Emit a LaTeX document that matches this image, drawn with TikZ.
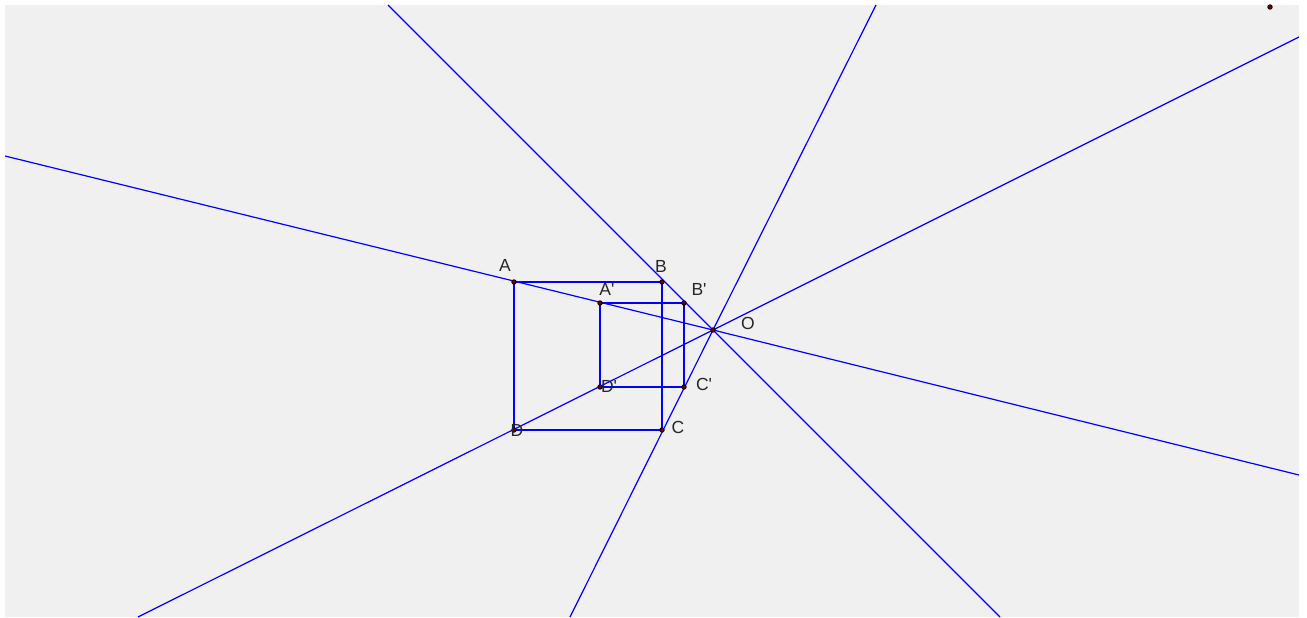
\documentclass[tikz,border=0pt]{standalone}
\usepackage{fontspec}
\newfontfamily\lblfont{Liberation Sans}
\definecolor{bg}{RGB}{240,240,240}
\definecolor{ptc}{RGB}{120,0,0}
\begin{document}
\begin{tikzpicture}[x=1pt,y=-1pt,
  ln/.style={blue, line width=1.2pt},
  sq/.style={blue, line width=1.7pt},
  pt/.style={circle, fill=ptc, draw=black, line width=0.8pt, inner sep=0pt, minimum size=4.5pt},
  lbl/.style={font=\lblfont\fontsize{17.5}{19}\selectfont, text=black!85, inner sep=0pt}]
\useasboundingbox (0,0) rectangle (1307,618);
\fill[white] (0,0) rectangle (1307,618);
\fill[bg] (5,5) rectangle (1299,617);
% points
\coordinate (O) at (713,330);
\coordinate (A) at (514,282);
\coordinate (B) at (662,282);
\coordinate (C) at (662,430);
\coordinate (D) at (514,430);
\coordinate (A') at (600,303);
\coordinate (B') at (684,303);
\coordinate (C') at (684,387);
\coordinate (D') at (600,387);
% line ends
\coordinate (a1) at (5,156);
\coordinate (a2) at (1299,475);
\coordinate (b1) at (388,5);
\coordinate (b2) at (1000,617);
\coordinate (c1) at (876,5);
\coordinate (c2) at (570,617);
\coordinate (d1) at (138,617);
\coordinate (d2) at (1299,37);
\begin{scope}
\clip (5,5) rectangle (1299,617);
\draw[ln] (a1) -- (O) -- (a2);
\draw[ln] (b1) -- (O) -- (b2);
\draw[ln] (c1) -- (O) -- (c2);
\draw[ln] (d1) -- (O) -- (d2);
\end{scope}
\draw[sq] (A) -- (B) -- (C) -- (D) -- cycle;
\draw[sq] (A') -- (B') -- (C') -- (D') -- cycle;
\foreach \p in {O,A,B,C,D,A',B',C',D'} \node[pt] at (\p) {};
\node[pt] (P) at (1270,7) {};
% labels
\node[lbl] (lA) at (505,265) {A};
\node[lbl] (lB) at (661,266) {B};
\node[lbl] (lC) at (678,427) {C};
\node[lbl] (lD) at (517,430) {D};
\node[lbl] (lA') at (607,289) {A'};
\node[lbl] (lB') at (699,289) {B'};
\node[lbl] (lC') at (704,384) {C'};
\node[lbl] (lD') at (609,386) {D'};
\node[lbl] (lO) at (748,323) {O};
\end{tikzpicture}
\end{document}
